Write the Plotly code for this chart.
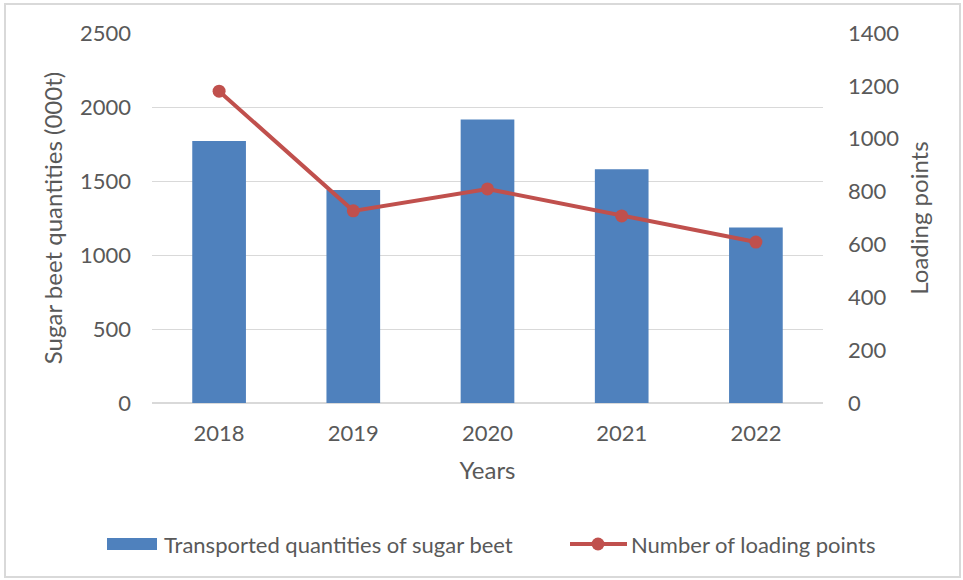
import plotly.graph_objects as go

years = ["2018", "2019", "2020", "2021", "2022"]
quantities = [1770, 1440, 1915, 1580, 1185]
loading_points = [1180, 727, 810, 708, 609]
left_ticks = [0, 500, 1000, 1500, 2000, 2500]
right_ticks = [0, 200, 400, 600, 800, 1000, 1200, 1400]
bar_name = "Transported quantities of sugar beet"
line_name = "Number of loading points"

FONT = "Lato, sans-serif"
GRAY = "#595959"
BLUE = "#4F81BD"
RED = "#C0504D"

fig = go.Figure()
fig.add_trace(go.Bar(x=years, y=quantities, name=bar_name,
                     marker=dict(color=BLUE, line=dict(width=0)), yaxis="y"))
fig.add_trace(go.Scatter(x=years, y=loading_points, name=line_name,
                         mode="lines+markers", line=dict(color=RED, width=4),
                         marker=dict(size=13, color=RED), yaxis="y2"))

# Custom legend (paper coordinates; plot area is 671 x 370 px starting at x=152, y=403)
PW, PH, X0, Y0 = 671.0, 370.0, 152.0, 403.0
def px(x):
    return (x - X0) / PW
def py(y):
    return (Y0 - y) / PH

LEG_Y = 544
shapes = [
    dict(type="rect", xref="paper", yref="paper",
         x0=px(5), x1=px(960), y0=py(577), y1=py(4),
         line=dict(color="#D9D9D9", width=2), fillcolor="rgba(0,0,0,0)", layer="below"),
    dict(type="rect", xref="paper", yref="paper",
         x0=px(107), x1=px(157), y0=py(LEG_Y + 6), y1=py(LEG_Y - 6),
         line=dict(width=0), fillcolor=BLUE),
    dict(type="line", xref="paper", yref="paper",
         x0=px(570), x1=px(627), y0=py(LEG_Y), y1=py(LEG_Y),
         line=dict(color=RED, width=4)),
    dict(type="circle", xref="paper", yref="paper",
         x0=px(598 - 6.5), x1=px(598 + 6.5), y0=py(LEG_Y + 6.5), y1=py(LEG_Y - 6.5),
         line=dict(width=0), fillcolor=RED),
]
annotations = [
    dict(text=bar_name, xref="paper", yref="paper", x=px(162), y=py(LEG_Y),
         xanchor="left", yanchor="middle", showarrow=False,
         font=dict(size=22, color=GRAY, family=FONT)),
    dict(text=line_name, xref="paper", yref="paper", x=px(629), y=py(LEG_Y),
         xanchor="left", yanchor="middle", showarrow=False,
         font=dict(size=22, color=GRAY, family=FONT)),
]

fig.update_layout(
    width=963, height=580,
    margin=dict(l=152, r=140, t=33, b=177, autoexpand=False),
    paper_bgcolor="white", plot_bgcolor="white",
    font=dict(family=FONT, size=22, color=GRAY),
    bargap=0.6,
    showlegend=False,
    xaxis=dict(showgrid=False, showline=False, ticks="", ticklabelstandoff=15,
               title=dict(text="Years", standoff=17, font=dict(size=24)),
               tickfont=dict(size=22, color=GRAY)),
    yaxis=dict(range=[0, 2500], tickvals=left_ticks, showgrid=True, gridcolor="#D9D9D9",
               gridwidth=1, zeroline=True, zerolinecolor="#D9D9D9", showline=False,
               ticks="", ticklabelstandoff=20,
               title=dict(text="Sugar beet quantities (000t)", standoff=10, font=dict(size=24)),
               tickfont=dict(size=22, color=GRAY)),
    yaxis2=dict(range=[0, 1400], tickvals=right_ticks, overlaying="y", side="right",
                showgrid=False, zeroline=False, showline=False, ticks="", ticklabelstandoff=24,
                title=dict(text="Loading points", standoff=12, font=dict(size=24)),
                tickfont=dict(size=22, color=GRAY)),
    shapes=shapes,
    annotations=annotations,
)

fig.write_html("out.html")
